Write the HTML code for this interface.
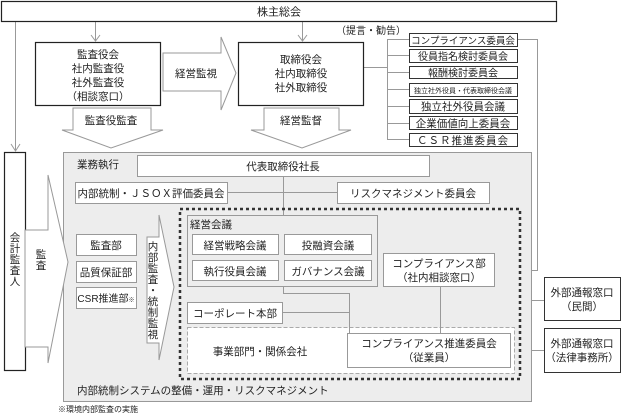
<!DOCTYPE html>
<html><head><meta charset="utf-8"><style>
html,body{margin:0;padding:0;background:#fff;}
svg{display:block;}
text{font-family:"Liberation Sans","Noto Sans CJK JP",sans-serif;fill:#222;}
</style></head><body>
<svg width="622" height="415" viewBox="0 0 622 415" xmlns="http://www.w3.org/2000/svg" font-size="10.5">
<g fill="none" stroke="#999" stroke-width="1">
 <line x1="15.5" y1="22" x2="15.5" y2="150"/>
 <polyline points="11,144 15.5,151 20,144"/>
 <line x1="95.5" y1="22" x2="95.5" y2="41"/>
 <polyline points="91,35 95.5,41 100,35"/>
 <line x1="302.5" y1="22" x2="302.5" y2="41"/>
 <polyline points="298,35 302.5,41 307,35"/>
 <line x1="364" y1="67.5" x2="387" y2="67.5"/>
 <line x1="387.5" y1="39" x2="387.5" y2="139"/>
 <line x1="387" y1="39.5" x2="409" y2="39.5"/>
 <line x1="387" y1="55.5" x2="409" y2="55.5"/>
 <line x1="387" y1="72.5" x2="409" y2="72.5"/>
 <line x1="387" y1="89.5" x2="409" y2="89.5"/>
 <line x1="387" y1="106.5" x2="409" y2="106.5"/>
 <line x1="387" y1="123.5" x2="409" y2="123.5"/>
 <line x1="387" y1="139.5" x2="409" y2="139.5"/>
 <polyline points="518,39.5 537.5,39.5 537.5,270.5 494,270.5"/>
 <polyline points="526.5,270 526.5,350.5 544,350.5"/>
 <line x1="526" y1="300.5" x2="544" y2="300.5"/>
</g>
<g fill="#fff" stroke="#999">
 <polygon points="163,53 221,53 221,37 236,73 221,110 221,91 163,91"/>
 <polygon points="73,108 151,108 151,130 163,130 111,148 62,130 73,130"/>
 <polygon points="264,108 339,108 339,130 351,130 302,148 251,130 264,130"/>
</g>
<g stroke="#222" stroke-width="1.2" fill="#fff">
 <rect x="1.5" y="1.5" width="555" height="20"/>
 <rect x="35.5" y="42.5" width="125" height="63"/>
 <rect x="238.5" y="42.5" width="125" height="63"/>
 <rect x="4.5" y="152.5" width="21" height="218"/>
</g>
<g stroke="#333" stroke-width="1" fill="#fff">
 <rect x="409.5" y="33.5" width="108" height="13"/>
 <rect x="409.5" y="49.5" width="108" height="13"/>
 <rect x="409.5" y="66.5" width="108" height="12"/>
 <rect x="409.5" y="83.5" width="108" height="13"/>
 <rect x="409.5" y="99.5" width="108" height="14"/>
 <rect x="409.5" y="116.5" width="108" height="13"/>
 <rect x="409.5" y="133.5" width="108" height="13"/>
 <rect x="544.5" y="277.5" width="76" height="43"/>
 <rect x="544.5" y="328.5" width="76" height="44"/>
</g>
<rect x="63.5" y="152.5" width="468" height="249" fill="#ededed" stroke="#999"/>
<polygon points="25,230 48,230 48,175 68,262 48,363 48,347 25,347" fill="#fff" stroke="#999"/>
<polygon points="147,237 159,237 159,215 174,287 159,360 159,343 147,343" fill="#fff" stroke="#999"/>
<g fill="#fff" stroke="#999">
 <rect x="137.5" y="155.5" width="292" height="21"/>
 <rect x="75.5" y="182.5" width="152" height="21"/>
 <rect x="337.5" y="182.5" width="152" height="21"/>
 <rect x="76.5" y="234.5" width="60" height="21"/>
 <rect x="76.5" y="261.5" width="60" height="21"/>
 <rect x="76.5" y="287.5" width="60" height="21"/>
</g>
<g stroke="#999" fill="none">
 <line x1="227" y1="192.5" x2="337" y2="192.5"/>
 <line x1="283.5" y1="176" x2="283.5" y2="215"/>
</g>
<rect x="180" y="209" width="340" height="170" fill="none" stroke="#333" stroke-width="2.5" stroke-dasharray="3,3"/>
<rect x="187.5" y="215.5" width="190" height="71" fill="#ededed" stroke="#999"/>
<g fill="#fff" stroke="#999">
 <rect x="192.5" y="234.5" width="86" height="20"/>
 <rect x="284.5" y="234.5" width="87" height="20"/>
 <rect x="192.5" y="260.5" width="86" height="20"/>
 <rect x="284.5" y="260.5" width="87" height="20"/>
 <rect x="383.5" y="253.5" width="111" height="33"/>
 <rect x="187.5" y="302.5" width="95" height="21"/>
</g>
<rect x="187.5" y="327.5" width="327" height="46" fill="#fff" stroke="#aaa" stroke-dasharray="4,2"/>
<g stroke="#999" fill="none">
 <polyline points="283.5,286 283.5,293.5 349.5,293.5 349.5,333"/>
 <line x1="282" y1="312.5" x2="349" y2="312.5"/>
 <line x1="440.5" y1="286" x2="440.5" y2="333"/>
</g>
<rect x="347.5" y="333.5" width="163" height="34" fill="#fff" stroke="#999"/>
<g text-anchor="middle">
 <text x="279" y="15.5" font-size="11">株主総会</text>
 <text x="98" y="58">監査役会</text>
 <text x="98" y="72">社内監査役</text>
 <text x="98" y="86">社外監査役</text>
 <text x="98" y="100">（相談窓口）</text>
 <text x="301" y="63">取締役会</text>
 <text x="301" y="77">社内取締役</text>
 <text x="301" y="91">社外取締役</text>
 <text x="196" y="77">経営監視</text>
 <text x="111" y="124">監査役監査</text>
 <text x="301" y="124">経営監督</text>
 <text x="371" y="34" font-size="10">（提言・勧告）</text>
 <text x="463" y="44" font-size="9.5">コンプライアンス委員会</text>
 <text x="463" y="60" font-size="10">役員指名検討委員会</text>
 <text x="463" y="76.5" font-size="10">報酬検討委員会</text>
 <text x="463" y="93" font-size="7">独立社外役員・代表取締役会議</text>
 <text x="463" y="110" font-size="10.5">独立社外役員会議</text>
 <text x="463" y="127" font-size="10.5">企業価値向上委員会</text>
 <text x="463" y="144" font-size="10.5" letter-spacing="1">ＣＳＲ推進委員会</text>
 <text x="283" y="170">代表取締役社長</text>
 <text x="151" y="197">内部統制・ＪＳＯＸ評価委員会</text>
 <text x="413" y="197">リスクマネジメント委員会</text>
 <text x="106" y="249">監査部</text>
 <text x="106" y="276">品質保証部</text>
 <text x="106" y="302" font-size="10">CSR推進部<tspan font-size="6">※</tspan></text>
 <text x="235" y="249">経営戦略会議</text>
 <text x="328" y="249">投融資会議</text>
 <text x="235" y="275">執行役員会議</text>
 <text x="328" y="275">ガバナンス会議</text>
 <text x="439" y="267">コンプライアンス部</text>
 <text x="439" y="281">（社内相談窓口）</text>
 <text x="235" y="317">コーポレート本部</text>
 <text x="260" y="355">事業部門・関係会社</text>
 <text x="429" y="347">コンプライアンス推進委員会</text>
 <text x="429" y="361">（従業員）</text>
 <text x="582" y="296">外部通報窓口</text>
 <text x="582" y="310">（民間）</text>
 <text x="582" y="347">外部通報窓口</text>
 <text x="582" y="361">（法律事務所）</text>
</g>
<text x="77" y="168">業務執行</text>
<text x="190" y="228">経営会議</text>
<text x="77" y="394">内部統制システムの整備・運用・リスクマネジメント</text>
<text x="58" y="412" font-size="8">※環境内部監査の実施</text>
<g text-anchor="middle">
 <text x="15" y="241">会</text><text x="15" y="252">計</text><text x="15" y="263">監</text><text x="15" y="274">査</text><text x="15" y="285">人</text>
 <text x="41" y="258">監</text><text x="41" y="269">査</text>
 <text x="153" y="250">内</text><text x="153" y="261">部</text><text x="153" y="272">監</text><text x="153" y="283">査</text><text x="153" y="294">・</text><text x="153" y="305">統</text><text x="153" y="316">制</text><text x="153" y="327">監</text><text x="153" y="338">視</text>
</g>
</svg>
</body></html>
